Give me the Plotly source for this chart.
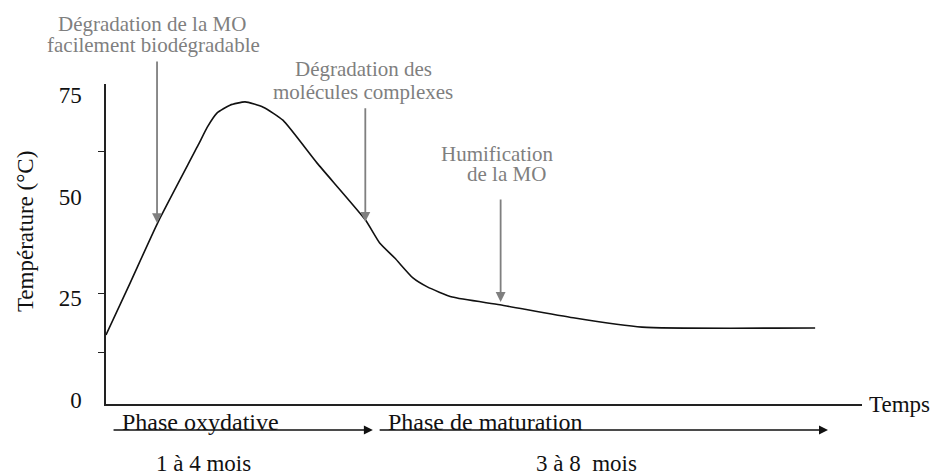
import plotly.graph_objects as go

# Data
time = [0, 3.2, 6.9, 12.2, 13.4, 14.7, 16.4, 18.4, 20.8, 23.4, 27.9, 34.3,
        36.2, 38.2, 40.6, 42.5, 45.8, 52.1, 61.8, 70.9, 93.8]
temperature = [16.0, 28.8, 43.8, 62.7, 67.1, 70.6, 72.5, 73.3, 72.0, 68.8, 58.3, 44.3,
               38.6, 34.9, 30.0, 27.8, 25.3, 23.4, 20.2, 17.9, 17.7]

y_tick_values = [0, 25, 50, 75]
y_tick_labels = ["0", "25", "50", "75"]
y_minor_ticks = [11.6, 26.3, 61.0]

event_time = [6.75, 34.3, 52.2]
event_temp = [43.5, 43.8, 24.1]
event_labels = [["Dégradation de la MO", "facilement biodégradable"],
                ["Dégradation des", "molécules complexes"],
                ["Humification", "de la MO"]]

phase_labels = ["Phase oxydative", "Phase de maturation"]
phase_durations = ["1 à 4 mois", "3 à 8\u00a0 mois"]

SERIF = "Liberation Serif, Times New Roman, serif"
GREY = "#7f7f7f"

fig = go.Figure()
fig.add_trace(go.Scatter(
    x=time, y=temperature, mode="lines",
    line=dict(color="#111111", width=1.6, shape="spline", smoothing=0.5),
    hoverinfo="skip", showlegend=False))

annotations = []

# Event arrows (grey) pointing onto the curve
arrow_lengths = [163, 115, 104]
label_pos = [  # (paper x, paper y) of each text line
    [(0.0608, 1.1875), (0.0622, 1.122)],
    [(0.340, 1.047), (0.340, 0.975)],
    [(0.517, 0.781), (0.530, 0.719)],
]
for t, v, L, lines, pos in zip(event_time, event_temp, arrow_lengths, event_labels, label_pos):
    annotations.append(dict(x=t, y=v, xref="x", yref="y", ax=0, ay=-L,
                            showarrow=True, arrowhead=2, arrowsize=1.1,
                            arrowwidth=1.8, arrowcolor=GREY, text=""))
    for txt, (px, py) in zip(lines, pos):
        annotations.append(dict(x=px, y=py, xref="paper", yref="paper",
                                text=txt, showarrow=False, xanchor="center",
                                yanchor="middle",
                                font=dict(family=SERIF, size=21, color=GREY)))

# Phase arrows under the time axis
phase_arrow = [(0.8, 35.3), (36.0, 95.5)]
for (x0, x1) in phase_arrow:
    annotations.append(dict(x=x1, y=-0.081, xref="x", yref="paper",
                            ax=x0, ay=0, axref="x", ayref="pixel",
                            showarrow=True, arrowhead=2, arrowsize=1.2,
                            arrowwidth=1.5, arrowcolor="#111111", text=""))
phase_text_x = [0.0185, 0.371]
for txt, px in zip(phase_labels, phase_text_x):
    annotations.append(dict(x=px, y=-0.056, xref="paper", yref="paper",
                            text=txt, showarrow=False, xanchor="left",
                            yanchor="middle",
                            font=dict(family=SERIF, size=24, color="#111111")))
dur_x = [0.1296, 0.636]
for txt, px in zip(phase_durations, dur_x):
    annotations.append(dict(x=px, y=-0.185, xref="paper", yref="paper",
                            text=txt, showarrow=False, xanchor="center",
                            yanchor="middle",
                            font=dict(family=SERIF, size=23, color="#111111")))

# Axis titles
annotations.append(dict(x=1.0066, y=0.0, xref="paper", yref="paper",
                        text="Temps", showarrow=False, xanchor="left",
                        yanchor="middle",
                        font=dict(family=SERIF, size=23, color="#111111")))
annotations.append(dict(x=-0.107, y=0.5375, xref="paper", yref="paper",
                        text="Température (°C)", showarrow=False, textangle=-90,
                        xanchor="center", yanchor="middle",
                        font=dict(family=SERIF, size=23, color="#111111")))

# The page body has an 8px margin, so the figure is offset by 8px
fig.update_layout(
    width=925, height=468,
    margin=dict(l=98, r=71, t=76, b=72),
    paper_bgcolor="white", plot_bgcolor="white",
    annotations=annotations,
    xaxis=dict(range=[0, 100], showgrid=False, zeroline=False,
               showline=True, linecolor="#222222", linewidth=1.5,
               showticklabels=False, ticks=""),
    yaxis=dict(range=[-1, 77.7], showgrid=False, zeroline=False,
               showline=True, linecolor="#222222", linewidth=1.5,
               tickvals=y_tick_values, ticktext=y_tick_labels, ticks="",
               ticklabelstandoff=18,
               tickfont=dict(family=SERIF, size=23, color="#111111"),
               minor=dict(tickvals=y_minor_ticks, ticks="outside",
                          ticklen=6, tickcolor="#222222", tickwidth=1.2)),
    showlegend=False,
)

fig.write_html("out.html")
